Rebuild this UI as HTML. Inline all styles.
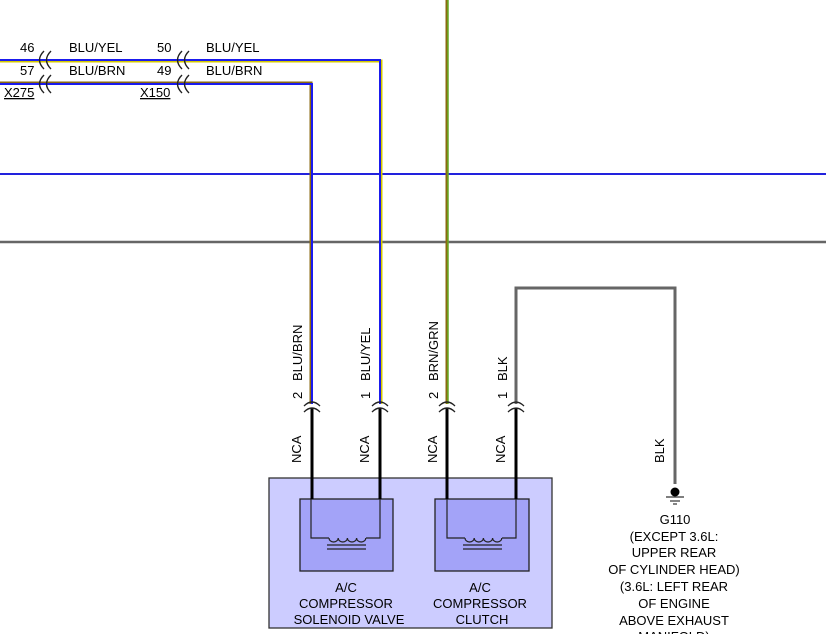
<!DOCTYPE html>
<html><head><style>
html,body{margin:0;padding:0;background:#fff;}
svg{display:block;font-family:"Liberation Sans",sans-serif;font-size:13px;}
</style></head><body>
<svg width="826" height="634" viewBox="0 0 826 634">
<line x1="0" y1="174" x2="826" y2="174" stroke="#2222dd" stroke-width="2"/>
<line x1="0" y1="242" x2="826" y2="242" stroke="#666" stroke-width="2.5"/>
<polyline points="0,61 381,61 381,404" fill="none" stroke="#d4c800" stroke-width="3"/>
<polyline points="0,60 380,60 380,404" fill="none" stroke="#1a1aee" stroke-width="2"/>
<polyline points="0,83 311,83 311,404" fill="none" stroke="#8a6a10" stroke-width="3"/>
<polyline points="0,84 312,84 312,404" fill="none" stroke="#1a1aee" stroke-width="2"/>
<line x1="447" y1="0" x2="447" y2="404" stroke="#8a6a10" stroke-width="3"/>
<line x1="448" y1="0" x2="448" y2="404" stroke="#66aa22" stroke-width="1.5"/>
<polyline points="516,404 516,288 675,288 675,484" fill="none" stroke="#666" stroke-width="3"/>
<g fill="none" stroke="#222" stroke-width="1.4">
<path d="M44,51 Q35,60 44,69 M51,51 Q42,60 51,69"/>
<path d="M44,75 Q35,84 44,93 M51,75 Q42,84 51,93"/>
<path d="M182,51 Q173,60 182,69 M189,51 Q180,60 189,69"/>
<path d="M182,75 Q173,84 182,93 M189,75 Q180,84 189,93"/>
</g>
<g fill="#000">
<text x="20" y="52">46</text><text x="69" y="52">BLU/YEL</text>
<text x="20" y="75">57</text><text x="69" y="75">BLU/BRN</text>
<text x="157" y="52">50</text><text x="206" y="52">BLU/YEL</text>
<text x="157" y="75">49</text><text x="206" y="75">BLU/BRN</text>
<text x="4" y="97" text-decoration="underline">X275</text>
<text x="140" y="97" text-decoration="underline">X150</text>
</g>
<g fill="#000">
<text transform="translate(302,399) rotate(-90)">2</text>
<text transform="translate(302,381) rotate(-90)">BLU/BRN</text>
<text transform="translate(370,399) rotate(-90)">1</text>
<text transform="translate(370,381) rotate(-90)">BLU/YEL</text>
<text transform="translate(438,399) rotate(-90)">2</text>
<text transform="translate(438,381) rotate(-90)">BRN/GRN</text>
<text transform="translate(507,399) rotate(-90)">1</text>
<text transform="translate(507,381) rotate(-90)">BLK</text>
<text transform="translate(301,463) rotate(-90)">NCA</text>
<text transform="translate(369,463) rotate(-90)">NCA</text>
<text transform="translate(437,463) rotate(-90)">NCA</text>
<text transform="translate(505,463) rotate(-90)">NCA</text>
<text transform="translate(664,463) rotate(-90)">BLK</text>
</g>
<rect x="269" y="478" width="283" height="150" fill="#ccccff" stroke="#333" stroke-width="1.3"/>
<rect x="300" y="499" width="93" height="72" fill="#a3a3f8" stroke="#222" stroke-width="1.3"/>
<rect x="435" y="499" width="94" height="72" fill="#a3a3f8" stroke="#222" stroke-width="1.3"/>
<g fill="none" stroke="#222" stroke-width="1.2">
<path d="M311,499 V538 H329 M366,538 H380 V499"/>
<path d="M329,538 a4.6,4 0 0 0 9.2,0 a4.6,4 0 0 0 9.2,0 a4.6,4 0 0 0 9.2,0 a4.6,4 0 0 0 9.2,0"/>
<line x1="327" y1="545" x2="366" y2="545"/><line x1="327" y1="549" x2="366" y2="549"/>
<path d="M447,499 V538 H465 M502,538 H516 V499"/>
<path d="M465,538 a4.6,4 0 0 0 9.2,0 a4.6,4 0 0 0 9.2,0 a4.6,4 0 0 0 9.2,0 a4.6,4 0 0 0 9.2,0"/>
<line x1="463" y1="545" x2="502" y2="545"/><line x1="463" y1="549" x2="502" y2="549"/>
</g>
<g stroke="#000" stroke-width="3">
<line x1="312" y1="408" x2="312" y2="499"/>
<line x1="380" y1="408" x2="380" y2="499"/>
<line x1="447" y1="408" x2="447" y2="499"/>
<line x1="516" y1="408" x2="516" y2="499"/>
</g>
<g fill="none" stroke="#222" stroke-width="1.3">
<path d="M304,406 Q312,398 320,406 M304,412 Q312,404 320,412"/>
<path d="M372,406 Q380,398 388,406 M372,412 Q380,404 388,412"/>
<path d="M439,406 Q447,398 455,406 M439,412 Q447,404 455,412"/>
<path d="M508,406 Q516,398 524,406 M508,412 Q516,404 524,412"/>
</g>
<circle cx="675" cy="492" r="4.5" fill="#000"/>
<line x1="666" y1="497" x2="684" y2="497" stroke="#333" stroke-width="1.2"/>
<line x1="670" y1="501" x2="680" y2="501" stroke="#333" stroke-width="1.2"/>
<line x1="673" y1="504" x2="677" y2="504" stroke="#333" stroke-width="1.2"/>
<g fill="#000" text-anchor="middle">
<text x="346" y="592">A/C</text><text x="346" y="608">COMPRESSOR</text><text x="349" y="624">SOLENOID VALVE</text>
<text x="480" y="592">A/C</text><text x="480" y="608">COMPRESSOR</text><text x="482" y="624">CLUTCH</text>
<text x="675" y="524">G110</text>
<text x="674" y="541">(EXCEPT 3.6L:</text>
<text x="674" y="557">UPPER REAR</text>
<text x="674" y="574">OF CYLINDER HEAD)</text>
<text x="674" y="591">(3.6L: LEFT REAR</text>
<text x="674" y="608">OF ENGINE</text>
<text x="674" y="625">ABOVE EXHAUST</text>
<text x="674" y="641">MANIFOLD)</text>
</g>
</svg>
</body></html>
